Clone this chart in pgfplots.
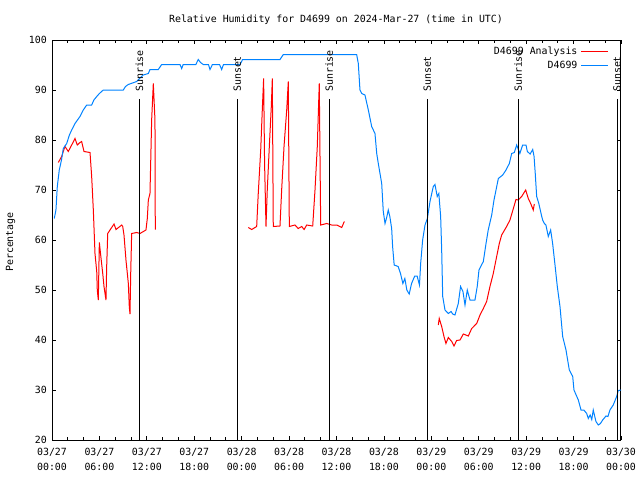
\documentclass[border=0pt]{standalone}
\usepackage{fontspec}
\setmainfont{DejaVu Sans Mono}
\usepackage{pgfplots}
\pgfplotsset{compat=1.18}
\definecolor{gblue}{RGB}{0,130,255}
\definecolor{gred}{RGB}{255,0,0}
\newcommand{\gfont}{\fontsize{9.9bp}{15bp}\selectfont}
\begin{document}
\begin{tikzpicture}
\useasboundingbox (0,0) rectangle (640bp,480bp);
\begin{axis}[
  at={(52bp,40bp)}, anchor=south west,
  scale only axis, width=569bp, height=400bp,
  xmin=0, xmax=72, ymin=20, ymax=100,
  axis line style={line width=1bp},
  every tick/.style={black, line width=0.8bp},
  major tick length=4bp, minor tick length=2.5bp,
  tick align=inside,
  xtick={0,6,...,72},
  minor x tick num=2,
  xticklabels={03/27\\00:00,03/27\\06:00,03/27\\12:00,03/27\\18:00,03/28\\00:00,03/28\\06:00,03/28\\12:00,03/28\\18:00,03/29\\00:00,03/29\\06:00,03/29\\12:00,03/29\\18:00,03/30\\00:00},
  ytick={20,30,...,100},
  /pgf/number format/assume math mode=true,
  tick label style={font=\gfont, inner sep=0pt},
  xticklabel style={align=center},
  xticklabel shift=8bp,
  yticklabel shift=5bp,
  clip=false,
  unbounded coords=jump,
  legend plot pos=right,
  legend cell align=right,
  legend style={at={(rel axis cs:0.979,0.988)}, anchor=north east, draw=none, fill=none, font=\gfont, inner sep=0pt, row sep=1bp, nodes={inner xsep=3bp}},
  legend image post style={xscale=1.6, line width=1.2bp},
]
\addplot[gred, line width=1bp] coordinates {
(0.8,75.5)(1.22,76.7)(1.64,78.7)(2.06,77.7)(2.49,79)(2.91,80.3)(3.2,79)(3.54,79.5)(3.75,79.7)(4.05,77.7)(4.81,77.5)(5.02,72.7)(5.23,66)(5.44,57.3)(5.66,53.7)(5.73,50)(5.86,48)(5.99,59.5)(6.16,57)(6.42,53.3)(6.58,50.7)(6.83,48)(6.92,54.7)(7.05,61.3)(7.34,62)(7.85,63.2)(8.1,62.1)(8.82,63)(8.95,62.7)(9.11,61)(9.36,56)(9.66,51.3)(9.78,46.7)(9.87,45.2)(9.96,53.3)(10.08,61.3)(10.72,61.5)(11.13,61.3)(11.89,62)(12.06,64.3)(12.19,68)(12.4,69.3)(12.61,84)(12.82,91.3)(13.03,84)(13.07,62.1)
(18,nan)
(24.84,62.5)(25.27,62.1)(25.9,62.7)(26.1,69.3)(26.41,78)(26.61,86)(26.78,92.3)(26.9,75.3)(27.08,62.7)(27.24,70)(27.5,78.7)(27.75,86.7)(27.88,92.3)(28.0,62.7)(28.85,62.8)(29.06,70)(29.36,78.7)(29.7,86)(29.9,91.7)(30.03,62.7)(30.75,63)(31.15,62.3)(31.6,62.7)(31.9,62.1)(32.23,63)(32.99,62.8)(33.28,70)(33.57,78.7)(33.74,87.3)(33.82,91.3)(34.0,63)(34.76,63.3)(35.39,63)(36.02,63)(36.66,62.5)(36.99,63.7)
(42,nan)
(48.88,43)(49.0,44.3)(49.31,42.7)(49.6,40.7)(49.85,39.3)(50.15,40.5)(50.58,39.7)(50.87,38.8)(51.2,39.9)(51.63,40)(52.05,41.2)(52.68,40.8)(53.11,42.3)(53.74,43.3)(54.16,45)(54.58,46.3)(55.0,47.7)(55.42,50.7)(55.84,53.3)(56.27,56.7)(56.6,59.3)(56.9,61)(57.53,62.7)(57.95,64)(58.38,66.3)(58.71,68.1)(59.0,68)(59.43,68.7)(59.94,70)(60.27,68.3)(60.57,67.3)(60.9,66)(61.03,67.2)
};
\addlegendentry{D4699 Analysis}
\addplot[gblue, line width=1bp] coordinates {
(0.29,64.3)(0.5,66)(0.67,70.7)(0.92,74)(1.2,76)(1.43,78.3)(1.86,79.3)(2.2,81)(2.49,82)(2.91,83.3)(3.54,84.7)(3.96,86)(4.39,87)(5.02,87)(5.3,88)(5.66,88.7)(6.0,89.3)(6.49,90)(9.02,90)(9.3,90.7)(9.65,91.1)(10.72,91.7)(11.2,92.5)(11.55,93)(12.19,93.3)(12.4,94.1)(13.45,94.1)(13.88,95.1)(16.2,95.1)(16.41,94.3)(16.6,95.1)(18.2,95.1)(18.51,96.1)(18.8,95.5)(19.14,95.1)(19.8,95.1)(19.99,94.1)(20.3,95.1)(21.2,95.1)(21.47,94.1)(21.7,95.1)(23.79,95.1)(24.0,95.7)(24.1,96.1)(28.85,96.1)(29.27,97.1)(38.55,97.1)(38.76,95.3)(38.97,90)(39.19,89.3)(39.6,89)(40.03,86)(40.45,82.7)(40.87,81.3)(41.09,77.3)(41.29,75.3)(41.72,71.3)(41.92,65.7)(42.14,63.3)(42.35,64.5)(42.55,66)(42.75,64.7)(42.98,62.3)(43.1,58.7)(43.3,55)(43.8,54.7)(44.1,53.3)(44.4,51.3)(44.65,52.3)(44.9,50)(45.2,49.2)(45.5,51.3)(45.9,52.8)(46.2,52.8)(46.5,51)(46.65,55.3)(46.9,60)(47.2,63)(47.5,64.3)(47.83,67.7)(48.25,70.7)(48.46,71.1)(48.75,68.7)(48.95,69.3)(49.18,64.7)(49.31,58)(49.44,48.7)(49.73,46)(50.15,45.3)(50.5,45.7)(50.7,45.2)(50.99,45)(51.41,47.3)(51.7,50.7)(52.0,49.7)(52.26,47)(52.55,50)(52.89,48)(53.52,48)(53.81,50.7)(54.03,54)(54.58,55.7)(54.92,59.3)(55.2,62)(55.64,65)(55.93,68)(56.48,72.3)(57.03,73)(57.45,74)(57.87,75.3)(58.17,77.3)(58.5,77.5)(58.8,79)(59.2,77.3)(59.56,79)(59.98,79)(60.15,77.7)(60.5,77.2)(60.83,78.1)(61.0,76.7)(61.15,73.3)(61.33,68.7)(61.6,67.3)(61.97,64.7)(62.09,64)(62.3,63.3)(62.5,63)(62.8,60.7)(63.1,62)(63.35,59.3)(63.65,55)(63.94,50.7)(64.28,46.7)(64.62,40.7)(65.04,38)(65.46,34)(65.89,32.7)(66.05,30)(66.6,28)(66.94,26)(67.3,26)(67.66,25.3)(67.86,24.3)(68.1,25)(68.3,24.1)(68.49,26)(68.83,23.7)(69.13,23)(69.4,23.3)(69.68,24)(70.1,24.8)(70.35,24.7)(70.6,26)(71.02,27)(71.45,28.7)(71.66,29.9)(72,30)
};
\addlegendentry{D4699}
% sunrise / sunset lines
\addplot[black, line width=1bp, forget plot] coordinates {(11.05,20)(11.05,88.2)};
\addplot[black, line width=1bp, forget plot] coordinates {(23.45,20)(23.45,88.2)};
\addplot[black, line width=1bp, forget plot] coordinates {(35.07,20)(35.07,88.2)};
\addplot[black, line width=1bp, forget plot] coordinates {(47.49,20)(47.49,88.2)};
\addplot[black, line width=1bp, forget plot] coordinates {(59.0,20)(59.0,88.2)};
\addplot[black, line width=1bp, forget plot] coordinates {(71.5,20)(71.5,88.2)};
\node[rotate=90, anchor=west, font=\gfont, inner sep=0pt] at (axis cs:11.05,89.6) {Sunrise};
\node[rotate=90, anchor=west, font=\gfont, inner sep=0pt] at (axis cs:23.45,89.6) {Sunset};
\node[rotate=90, anchor=west, font=\gfont, inner sep=0pt] at (axis cs:35.07,89.6) {Sunrise};
\node[rotate=90, anchor=west, font=\gfont, inner sep=0pt] at (axis cs:47.49,89.6) {Sunset};
\node[rotate=90, anchor=west, font=\gfont, inner sep=0pt] at (axis cs:59.0,89.6) {Sunrise};
\node[rotate=90, anchor=west, font=\gfont, inner sep=0pt] at (axis cs:71.5,89.6) {Sunset};
\end{axis}
\node[font=\gfont] at (336bp,460bp) {Relative Humidity for D4699 on 2024-Mar-27 (time in UTC)};
\node[font=\gfont, rotate=90] at (10.5bp,238bp) {Percentage};
\end{tikzpicture}
\end{document}
